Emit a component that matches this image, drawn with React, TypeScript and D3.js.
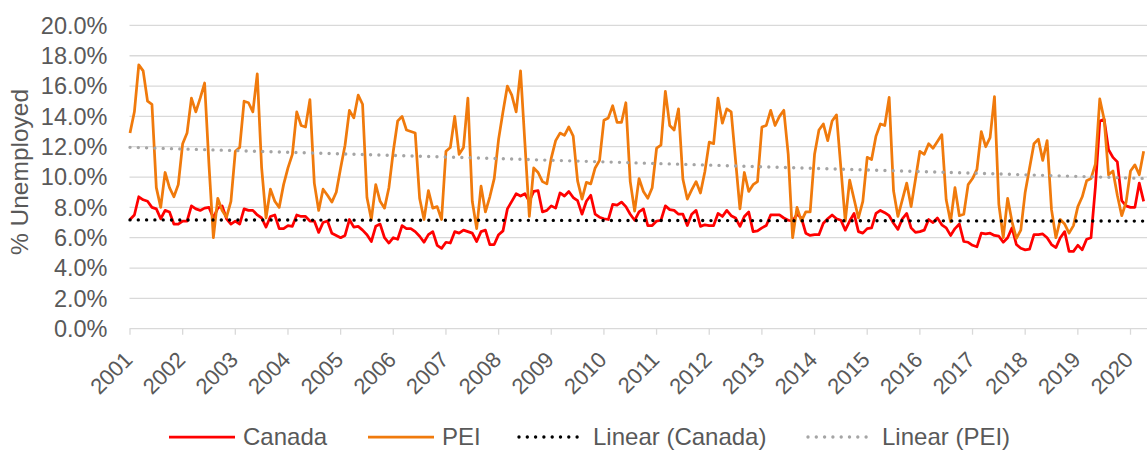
import React from 'react';
import * as d3 from 'd3';

// monthly unemployment rate, Jan 2001 onward (%)
const canada = [
  7.2, 7.5, 8.7, 8.5, 8.4, 8.0, 7.9, 7.25, 7.8, 7.7, 6.9, 6.9,
  7.1, 7.1, 8.1, 7.9, 7.8, 7.95, 8.0, 7.3, 7.95, 8.1, 7.25, 6.9,
  7.1, 6.9, 7.9, 7.8, 7.8, 7.5, 7.3, 6.7, 7.4, 7.5, 6.6, 6.6,
  6.8, 6.75, 7.5, 7.4, 7.4, 7.1, 7.1, 6.35, 7.0, 7.1, 6.3, 6.15,
  6.0, 6.15, 7.2, 6.7, 6.75, 6.5, 6.2, 5.75, 6.75, 6.9, 6.0, 5.65,
  6.0, 5.9, 6.8, 6.6, 6.6, 6.4, 6.1, 5.7, 6.2, 6.4, 5.5, 5.3,
  5.7, 5.65, 6.4, 6.3, 6.5, 6.4, 6.3, 5.75, 6.4, 6.5, 5.55, 5.55,
  6.2, 6.45, 7.9, 8.4, 8.9, 8.75, 8.9, 8.4, 9.05, 9.1, 7.7, 7.8,
  8.1, 7.95, 8.95, 8.75, 9.05, 8.65, 8.45, 7.55, 8.4, 8.8, 7.55, 7.35,
  7.25, 7.2, 8.2, 8.15, 8.35, 8.05, 7.55, 7.15, 7.7, 7.9, 6.8, 6.8,
  7.1, 7.15, 8.1, 7.85, 7.8, 7.55, 7.55, 6.8, 7.55, 7.8, 6.75, 6.85,
  6.8, 6.8, 7.6, 7.4, 7.8, 7.45, 7.3, 6.75, 7.4, 7.7, 6.4, 6.45,
  6.65, 6.8, 7.5, 7.5, 7.5, 7.3, 7.15, 7.1, 7.55, 7.3, 6.3, 6.15,
  6.2, 6.2, 6.95, 7.25, 7.5, 7.25, 7.15, 6.5, 7.1, 7.6, 6.4, 6.3,
  6.6, 6.65, 7.6, 7.8, 7.65, 7.45, 6.95, 6.55, 7.25, 7.6, 6.65, 6.35,
  6.4, 6.5, 7.2, 7.0, 7.3, 6.85, 6.65, 6.15, 6.6, 6.9, 5.75, 5.7,
  5.5, 5.4, 6.3, 6.25, 6.3, 6.15, 6.1, 5.7, 6.0, 6.65, 5.55, 5.3,
  5.2, 5.25, 6.2, 6.2, 6.25, 6.0, 5.55, 5.35, 6.0, 6.4, 5.1, 5.1,
  5.5, 5.2, 5.9, 6.0, 9.35, 13.7, 13.8, 11.8, 11.3, 11.0, 8.45, 8.1,
  8.0, 8.0, 9.6, 8.4,
];

const pei = [
  12.9, 14.3, 17.4, 17.0, 15.0, 14.8, 9.3, 8.0, 10.3, 9.3, 8.7, 9.5,
  12.2, 12.9, 15.2, 14.3, 15.2, 16.2, 10.8, 6.0, 8.6, 7.8, 7.35, 8.4,
  11.7, 11.95, 15.0, 14.9, 14.3, 16.8, 10.6, 7.3, 9.2, 8.4, 8.0, 9.5,
  10.6, 11.5, 14.3, 13.4, 13.3, 15.1, 9.6, 7.8, 9.2, 8.8, 8.35, 9.0,
  10.6, 12.1, 14.4, 13.9, 15.4, 14.8, 8.65, 7.2, 9.5, 8.4, 7.95, 9.3,
  11.7, 13.7, 14.0, 13.1, 13.0, 12.9, 8.6, 7.2, 9.1, 7.95, 8.05, 7.2,
  11.7, 11.95, 14.0, 11.5, 11.95, 15.2, 8.4, 6.6, 9.4, 7.7, 8.7, 9.9,
  12.5, 14.3, 16.0, 15.4, 14.3, 17.0, 12.2, 7.4, 10.6, 10.3, 9.7, 9.55,
  11.25, 12.4, 12.9, 12.75, 13.3, 12.7, 9.75, 8.55, 9.65, 9.55, 10.6, 11.1,
  13.75, 13.9, 14.7, 13.6, 13.6, 14.9, 9.7, 7.75, 9.9, 9.05, 8.6, 9.3,
  11.9, 12.1, 15.65, 13.4, 13.1, 14.5, 9.85, 8.55, 9.15, 9.7, 8.95, 10.35,
  12.3, 12.2, 15.2, 13.55, 14.5, 14.3, 11.1, 7.9, 10.3, 9.05, 9.5, 9.7,
  13.3, 13.4, 14.4, 13.4, 14.0, 14.4, 11.5, 6.0, 8.0, 7.1, 7.7, 7.7,
  11.5, 13.1, 13.5, 12.4, 13.7, 14.1, 10.6, 7.1, 9.8, 8.55, 7.3, 8.4,
  11.3, 11.15, 12.7, 13.5, 13.4, 15.25, 9.1, 7.4, 8.5, 9.6, 8.05, 9.85,
  11.7, 11.5, 12.2, 11.9, 12.35, 12.8, 8.5, 7.05, 9.3, 7.45, 7.55, 9.5,
  9.9, 10.5, 13.0, 12.0, 12.6, 15.3, 8.2, 6.0, 8.6, 7.05, 5.95, 6.5,
  9.0, 10.6, 12.2, 12.5, 11.1, 12.4, 7.85, 6.0, 7.2, 6.9, 6.3, 6.8,
  8.05, 8.7, 9.75, 9.9, 10.85, 15.15, 13.8, 10.15, 10.4, 8.8, 7.45, 8.35,
  10.4, 10.8, 10.15, 11.7,
];

const years = ['2001', '2002', '2003', '2004', '2005', '2006', '2007', '2008', '2009', '2010',
  '2011', '2012', '2013', '2014', '2015', '2016', '2017', '2018', '2019', '2020'];
const yTicks = [0, 2, 4, 6, 8, 10, 12, 14, 16, 18, 20];

const legendItems = [
  { label: 'Canada', kind: 'canada', x: 167 },
  { label: 'PEI', kind: 'pei', x: 366 },
  { label: 'Linear (Canada)', kind: 'trendCanada', x: 517 },
  { label: 'Linear (PEI)', kind: 'trendPei', x: 806 },
];

const styles: Record<string, any> = {
  canada: { stroke: '#ff0000', strokeWidth: 2.75 },
  pei: { stroke: '#f07a0c', strokeWidth: 2.75 },
  trendCanada: { stroke: '#000000', strokeWidth: 3.4, strokeDasharray: '0 8.3', strokeLinecap: 'round' },
  trendPei: { stroke: '#a5a5a5', strokeWidth: 3.4, strokeDasharray: '0 8.3', strokeLinecap: 'round' },
};

// least squares fit over the month index
function linearFit(vals: number[]) {
  const n = vals.length;
  const mx = d3.mean(vals, (_, i) => i) as number;
  const my = d3.mean(vals) as number;
  let sxy = 0, sxx = 0;
  vals.forEach((v, i) => { sxy += (i - mx) * (v - my); sxx += (i - mx) * (i - mx); });
  const b = sxy / sxx;
  const a = my - b * mx;
  return [0, n - 1].map(i => ({ i, v: a + b * i }));
}

const App = () => {
  const width = 1147, height = 450;
  const xScale = d3.scaleLinear().domain([0, 12 * (years.length - 1)]).range([130, 1130.5]);
  const yScale = d3.scaleLinear().domain([0, 20]).range([328.7, 25.4]);
  const line = d3.line<number>().x((d, i) => xScale(i)).y(d => yScale(d));
  const trendLine = d3.line<{ i: number, v: number }>().x(d => xScale(d.i)).y(d => yScale(d.v));
  const textColor = '#595959';
  const font = '"Liberation Sans", Arial, sans-serif';

  return (
    <svg width={width} height={height} style={{ position: 'absolute', left: 0, top: 0, background: '#fff' }}
      fontFamily={font}>
      <g id="grid">
        {yTicks.map(t => (
          <line key={t} x1={129.5} x2={width} y1={yScale(t)} y2={yScale(t)} stroke="#d9d9d9" strokeWidth={1.3} />
        ))}
      </g>
      <g id="yAxis" fontSize="23.5" fill={textColor} textAnchor="end">
        {yTicks.map(t => (
          <text key={t} x={107.5} y={yScale(t)} dy="0.35em">{t.toFixed(1)}%</text>
        ))}
      </g>
      <text transform="translate(28,172) rotate(-90)" textAnchor="middle" fontSize="24.5" fill={textColor}>% Unemployed</text>
      <g id="xAxis">
        {years.map((y, k) => {
          const x = xScale(12 * k);
          return (
            <g key={y}>
              <line x1={x} x2={x} y1={yScale(0)} y2={yScale(0) + 6} stroke="#d9d9d9" strokeWidth={1.3} />
              <text transform={`translate(${x + 4},361) rotate(-45)`} textAnchor="end" fontSize="22" fill={textColor}>{y}</text>
            </g>
          );
        })}
      </g>
      <path d={line(canada) || ''} fill="none" {...styles.canada} strokeLinejoin="round" />
      <path d={line(pei) || ''} fill="none" {...styles.pei} strokeLinejoin="round" />
      <path d={trendLine(linearFit(canada)) || ''} fill="none" {...styles.trendCanada} />
      <path d={trendLine(linearFit(pei)) || ''} fill="none" {...styles.trendPei} />
      <g id="legend" fontSize="24" fill={textColor}>
        {legendItems.map(item => (
          <g key={item.label}>
            <line x1={item.x + 2} x2={item.x + 68} y1={437} y2={437} {...styles[item.kind]} />
            <text x={item.x + 76} y={437} dy="0.35em">{item.label}</text>
          </g>
        ))}
      </g>
    </svg>
  );
};

export default App;
